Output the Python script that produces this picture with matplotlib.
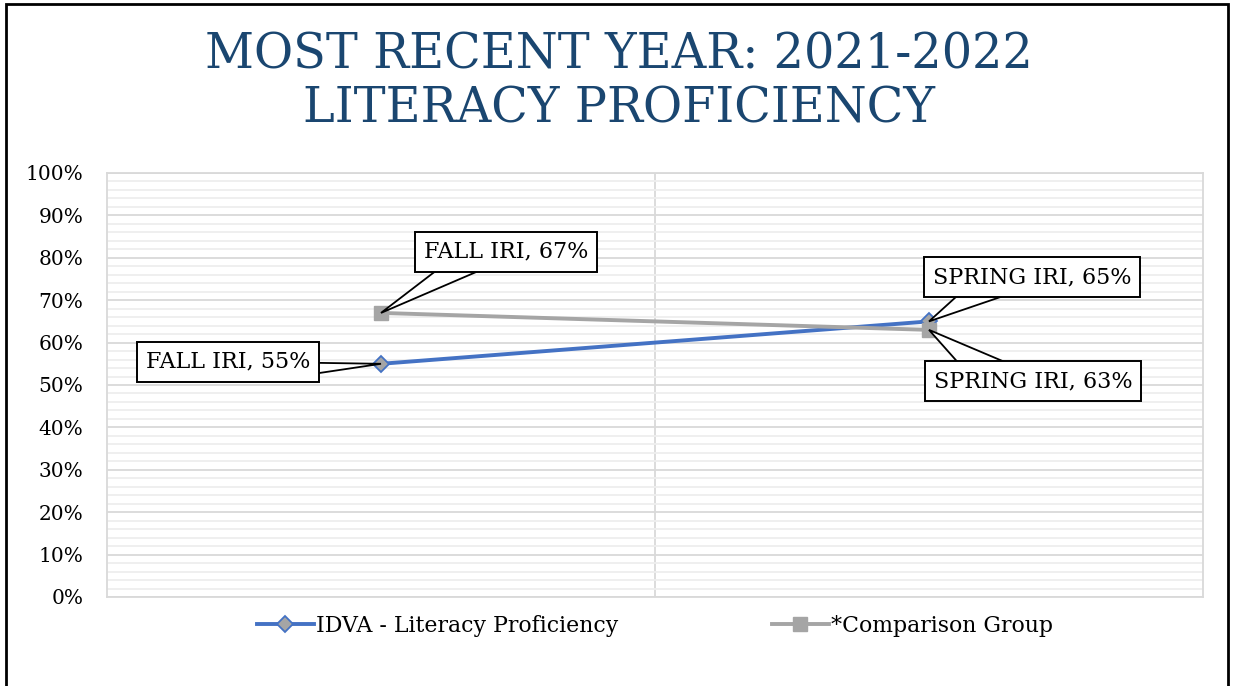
import matplotlib
matplotlib.use("Agg")
import matplotlib.pyplot as plt
from matplotlib.patches import Rectangle, Polygon
from matplotlib.transforms import ScaledTranslation
from matplotlib.ticker import MultipleLocator, FuncFormatter

categories = ["FALL IRI", "SPRING IRI"]
idva = [55, 65]
comparison = [67, 63]
series_names = ["IDVA - Literacy Proficiency", "*Comparison Group"]
title = "MOST RECENT YEAR: 2021-2022\nLITERACY PROFICIENCY"

FONT = "DejaVu Serif"
plt.rcParams['font.family'] = [FONT]

fig = plt.figure(figsize=(12.33, 6.86), dpi=100)
ax = fig.add_axes([107/1233, 1-597/686, (1203-107)/1233, (597-173)/686])

x = [0, 1]
ax.plot(x, idva, color="#4472C4", lw=2.8, marker="D", ms=8.5,
        mfc="#A5A5A5", mec="#4472C4", mew=1.3, label=series_names[0], zorder=3)
ax.plot(x, comparison, color="#A5A5A5", lw=2.8, marker="s", ms=10.5,
        mfc="#A5A5A5", mec="#A5A5A5", label=series_names[1], zorder=3)

ax.set_xlim(-0.5, 1.5)
ax.set_ylim(0, 100)
ax.yaxis.set_major_locator(MultipleLocator(10))
ax.yaxis.set_minor_locator(MultipleLocator(2))
ax.yaxis.set_major_formatter(FuncFormatter(lambda v, p: f"{int(v)}%"))
ax.set_xticks([0.5])
ax.set_xticklabels([])
ax.tick_params(axis='both', length=0, which='both')
ax.tick_params(axis='y', labelsize=14.5, pad=17)
ax.grid(axis='y', which='major', color="#D9D9D9", lw=1.3, zorder=0)
ax.grid(axis='y', which='minor', color="#EEEEEE", lw=1.3, zorder=0)
ax.grid(axis='x', which='major', color="#D9D9D9", lw=1.3, zorder=0)
for s in ax.spines.values():
    s.set_color("#D9D9D9")
    s.set_linewidth(1.3)
ax.set_axisbelow(True)

def callout(xv, yv, txt, dx, dy, base):
    # text box offset from the data point (in points)
    ax.annotate(txt, xy=(xv, yv), xytext=(dx, dy), textcoords='offset points',
                ha='center', va='center', fontsize=16, zorder=5,
                bbox=dict(boxstyle="square,pad=0.4", fc="white", ec="black", lw=1.4))
    # callout pointer: triangle from the box edge to the data point (pixel offsets)
    trans = fig.dpi_scale_trans + ScaledTranslation(xv, yv, ax.transData)
    verts = [(0, 0)] + [(bx / 100, by / 100) for bx, by in base]
    ax.add_patch(Polygon(verts, closed=True, transform=trans, fc="white",
                         ec="black", lw=1.3, zorder=4, clip_on=False,
                         joinstyle='miter'))

callout(x[0], comparison[0], f"{categories[0]}, {comparison[0]}%", 90, 44,
        [(60, 46), (107, 46)])
callout(x[0], idva[0], f"{categories[0]}, {idva[0]}%", -110, 1.5,
        [(-67, 1), (-67, -10)])
callout(x[1], idva[1], f"{categories[1]}, {idva[1]}%", 74, 32,
        [(32, 29), (85, 29)])
callout(x[1], comparison[1], f"{categories[1]}, {comparison[1]}%", 75, -37,
        [(32, -36), (85, -36)])

leg = fig.legend(loc='center', bbox_to_anchor=(655/1233, 1-626/686), ncol=2,
                 frameon=False, fontsize=15.8, handlelength=2.6, columnspacing=7,
                 handletextpad=0.1)

fig.text(619/1233, 1-82/686, title, ha='center', va='center', fontsize=34.5,
         color="#1A4670", linespacing=1.2)

fig.patches.append(Rectangle((6/1233, -0.05), (1228-6)/1233, 1.05-4/686,
                             transform=fig.transFigure, fill=False, ec="black", lw=2))

fig.savefig("out.png", dpi=100, facecolor="white")
